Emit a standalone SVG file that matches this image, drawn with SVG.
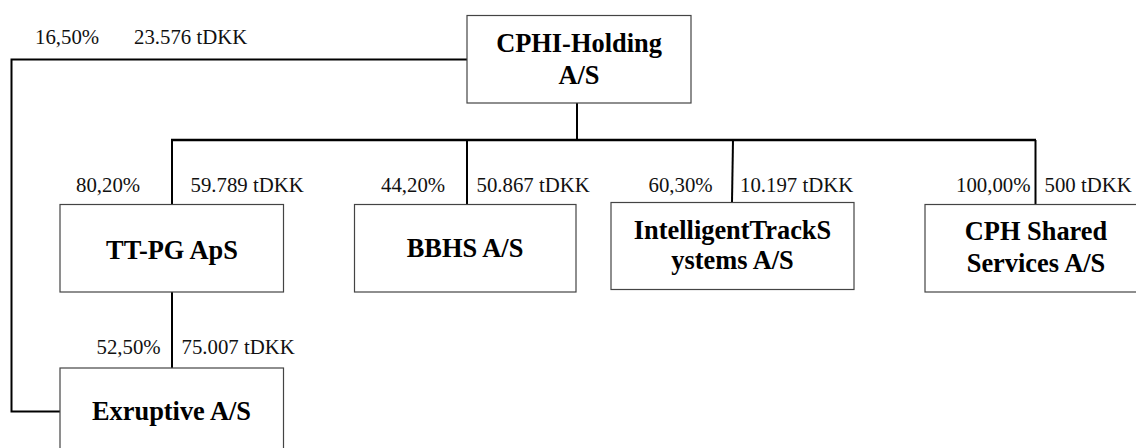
<svg xmlns="http://www.w3.org/2000/svg" width="1136" height="448" viewBox="0 0 1136 448">
<style>
.box{fill:#fff;stroke:#444;stroke-width:1.2}
.ln{fill:none;stroke:#000;stroke-width:2}
.bus{fill:none;stroke:#000;stroke-width:2.7}
text{font-family:'Liberation Serif','Times New Roman',serif}
.lbl{font-size:20.8px;fill:#111}
.nm{font-size:26.4px;font-weight:bold;fill:#000;text-anchor:middle}
</style>
<rect width="1136" height="448" fill="#fff"/>
<g id="connectors">
<polyline class="ln" points="467,59.5 11.5,59.5 11.5,411.5 60,411.5"/>
<line class="ln" x1="577" y1="103" x2="577" y2="140"/>
<line class="bus" x1="171" y1="140" x2="1036" y2="140"/>
<line class="ln" x1="172" y1="140" x2="172" y2="204"/>
<line class="ln" x1="467" y1="140" x2="467" y2="204"/>
<line class="ln" x1="733" y1="140" x2="732" y2="202"/>
<line class="ln" x1="1035.5" y1="140" x2="1035.5" y2="204"/>
<line class="ln" x1="172" y1="292" x2="172" y2="368"/>
</g>
<g id="labels">
<text class="lbl" x="35" y="44">16,50%</text>
<text class="lbl" x="134" y="44">23.576 tDKK</text>
<text class="lbl" x="76" y="192">80,20%</text>
<text class="lbl" x="190.5" y="192">59.789 tDKK</text>
<text class="lbl" x="381" y="192">44,20%</text>
<text class="lbl" x="476.5" y="192">50.867 tDKK</text>
<text class="lbl" x="648.5" y="192">60,30%</text>
<text class="lbl" x="740" y="192">10.197 tDKK</text>
<text class="lbl" x="956" y="192">100,00%</text>
<text class="lbl" x="1044.5" y="192">500 tDKK</text>
<text class="lbl" x="96.5" y="353.5">52,50%</text>
<text class="lbl" x="181.5" y="353.5">75.007 tDKK</text>
</g>
<g id="cphi">
<rect class="box" x="467" y="15.5" width="224" height="87.5"/>
<text class="nm" x="579" y="51.5">CPHI-Holding</text>
<text class="nm" x="579" y="83.5">A/S</text>
</g>
<g id="ttpg">
<rect class="box" x="60" y="204.5" width="223.5" height="87.5"/>
<text class="nm" x="172" y="258.5">TT-PG ApS</text>
</g>
<g id="bbhs">
<rect class="box" x="354.5" y="204.5" width="221.5" height="87.5"/>
<text class="nm" x="465" y="257">BBHS A/S</text>
</g>
<g id="its">
<rect class="box" x="611" y="202.5" width="243" height="87"/>
<text class="nm" x="732.5" y="238.5">IntelligentTrackS</text>
<text class="nm" x="732.5" y="268.5">ystems A/S</text>
</g>
<g id="cphshared">
<rect class="box" x="925" y="204.5" width="222" height="87.5"/>
<text class="nm" x="1036" y="240">CPH Shared</text>
<text class="nm" x="1036" y="272">Services A/S</text>
</g>
<g id="exruptive">
<rect class="box" x="60" y="368" width="223.5" height="90"/>
<text class="nm" x="171.5" y="420">Exruptive A/S</text>
</g>
</svg>
